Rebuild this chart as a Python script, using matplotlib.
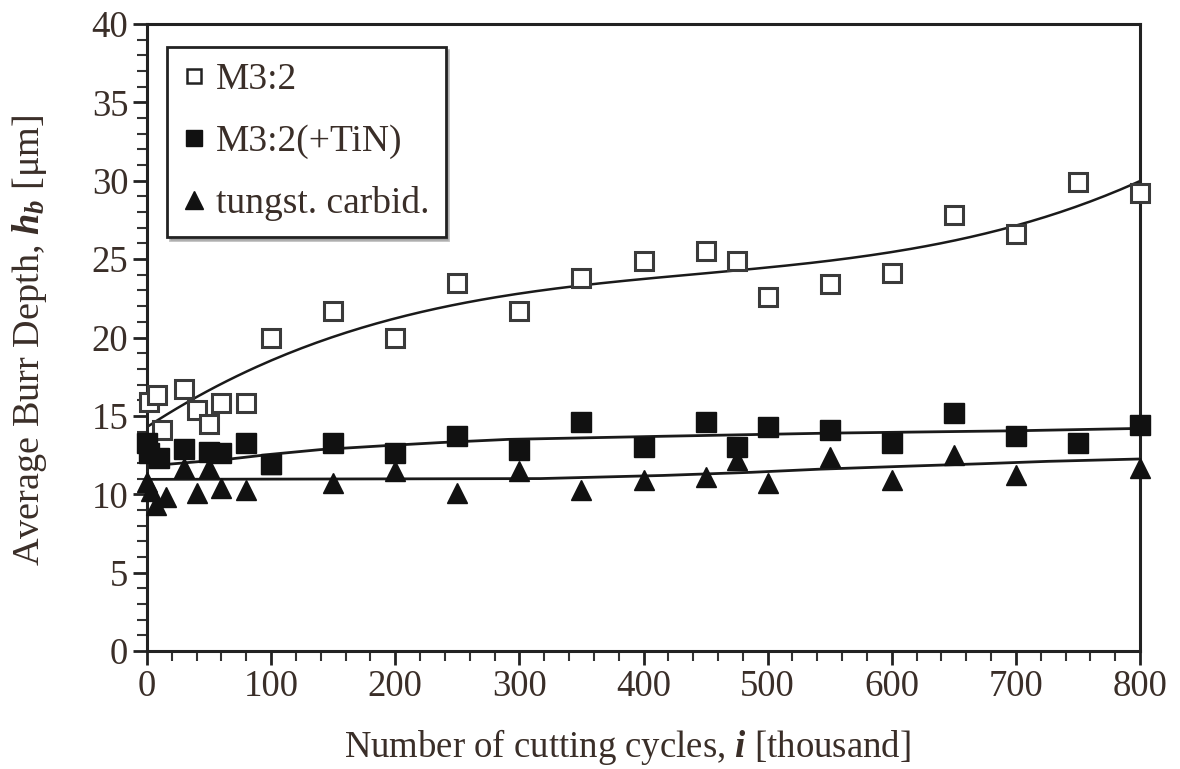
import numpy as np
import matplotlib
matplotlib.use("Agg")
import matplotlib.pyplot as plt
from matplotlib.lines import Line2D

# Burr depth measurements, x in thousand cutting cycles, y in micrometres
m32_x = [2, 8, 12, 30, 40, 50, 60, 80, 100, 150, 200, 250, 300, 350, 400,
         450, 475, 500, 550, 600, 650, 700, 750, 800]
m32_y = [15.9, 16.3, 14.1, 16.7, 15.4, 14.5, 15.8, 15.8, 20.0, 21.7, 20.0,
         23.5, 21.7, 23.8, 24.9, 25.5, 24.9, 22.6, 23.4, 24.1, 27.8, 26.6,
         29.9, 29.2]

tin_x = [0, 2, 10, 30, 50, 60, 80, 100, 150, 200, 250, 300, 350, 400, 450,
         475, 500, 550, 600, 650, 700, 750, 800]
tin_y = [13.3, 12.6, 12.3, 12.9, 12.7, 12.6, 13.3, 11.9, 13.3, 12.6, 13.7,
         12.8, 14.6, 13.0, 14.6, 13.0, 14.3, 14.1, 13.3, 15.2, 13.7, 13.3,
         14.4]

wc_x = [0, 3, 7, 15, 30, 40, 50, 60, 80, 100, 150, 200, 250, 300, 350, 400,
        450, 475, 500, 550, 600, 650, 700, 800]
wc_y = [10.8, 10.2, 9.3, 9.8, 11.7, 10.1, 11.7, 10.4, 10.3, 11.9, 10.7, 11.5,
        10.1, 11.5, 10.3, 10.9, 11.1, 12.2, 10.7, 12.4, 10.9, 12.5, 11.2, 11.7]

# smoothed trend lines for the coated and carbide tools
tin_fit_x = [0, 67, 100, 140, 192, 237, 291, 416, 550, 700, 800]
tin_fit_y = [11.8, 12.25, 12.55, 12.85, 13.1, 13.3, 13.5, 13.7, 13.9, 14.05, 14.2]
wc_fit_x = [0, 317, 416, 487, 542, 616, 674, 726, 800]
wc_fit_y = [10.95, 11.0, 11.2, 11.4, 11.6, 11.8, 11.95, 12.1, 12.25]

labels = ["M3:2", "M3:2(+TiN)", "tungst. carbid."]
x_ticks = [0, 100, 200, 300, 400, 500, 600, 700, 800]
y_ticks = [0, 5, 10, 15, 20, 25, 30, 35, 40]

TXT = "#3a2e28"
plt.rcParams["font.family"] = ["Liberation Serif", "DejaVu Serif"]
plt.rcParams["mathtext.fontset"] = "custom"
plt.rcParams["mathtext.rm"] = "Liberation Serif"
plt.rcParams["mathtext.it"] = "Liberation Serif:bold:italic"

fig = plt.figure(figsize=(11.8, 7.69), dpi=100)
ax = fig.add_axes([147 / 1180, 1 - 651 / 769, 993 / 1180, 627 / 769])

# cubic trend for the uncoated steel
coef = np.polyfit(m32_x, m32_y, 3)
xs = np.linspace(0, 800, 200)
ax.plot(xs, np.polyval(coef, xs), color="#1a1a1a", lw=1.8, zorder=2)
ax.plot(tin_fit_x, tin_fit_y, color="#1a1a1a", lw=2.0, zorder=2)
ax.plot(wc_fit_x, wc_fit_y, color="#1a1a1a", lw=2.0, zorder=2)

ax.plot(m32_x, m32_y, ls="none", marker="s", ms=12.5, mfc="white",
        mec="#3a3a3a", mew=2.2, clip_on=False, zorder=3)
ax.plot(tin_x, tin_y, ls="none", marker="s", ms=14, color="#111111",
        clip_on=False, zorder=3)
ax.plot(wc_x, wc_y, ls="none", marker="^", ms=15, color="#111111",
        clip_on=False, zorder=3)

ax.set_xlim(0, 800)
ax.set_ylim(0, 40)
ax.set_xticks(x_ticks)
ax.set_yticks(y_ticks)
ax.set_xticks(np.arange(0, 801, 20), minor=True)
ax.set_yticks(np.arange(0, 41, 1), minor=True)
ax.tick_params(which="major", direction="out", length=10, width=2,
               labelsize=26.5, labelcolor=TXT, color="#222222")
ax.tick_params(which="minor", direction="out", length=7, width=1.5,
               color="#333333")
for s in ax.spines.values():
    s.set_linewidth(2.2)
    s.set_color("#222222")

ax.set_xlabel("Number of cutting cycles, $i$ [thousand]", fontsize=26.5,
              color=TXT)
ax.set_ylabel("Average Burr Depth, $h_b$ [\u03bcm]", fontsize=27.5,
              color=TXT)
ax.xaxis.set_label_coords(0.484, -0.122)
ax.yaxis.set_label_coords(-0.099, 0.496)

handles = [
    Line2D([], [], ls="none", marker="s", ms=10.5, mfc="white", mec="#222222", mew=1.8),
    Line2D([], [], ls="none", marker="s", ms=11, color="#111111"),
    Line2D([], [], ls="none", marker="^", ms=12.5, color="#111111"),
]
leg = ax.legend(handles, labels, loc="upper left", bbox_to_anchor=(0.02, 0.963),
                borderaxespad=0, fontsize=27, handlelength=0.6,
                handletextpad=0.3, labelspacing=0.72, borderpad=0.42,
                fancybox=False, shadow={"color": "0.5"}, framealpha=1,
                labelcolor=TXT)
leg.get_frame().set_edgecolor("#222222")
leg.get_frame().set_linewidth(2.0)

fig.savefig("out.png", dpi=100)
